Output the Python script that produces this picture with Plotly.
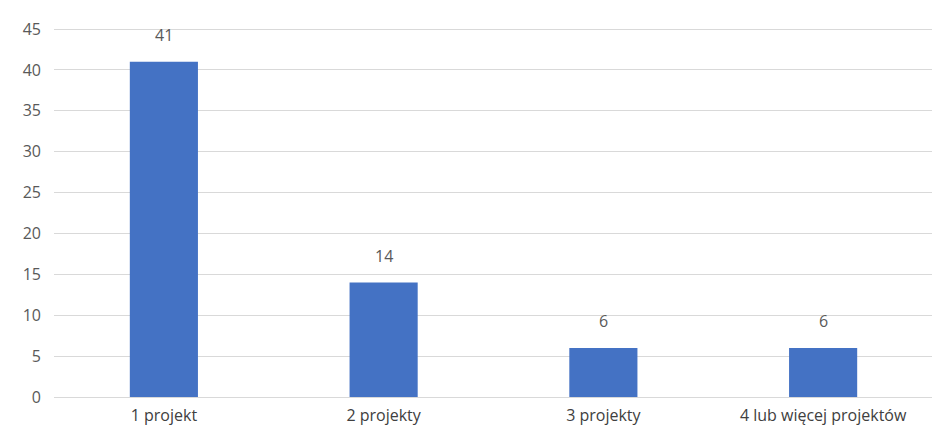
import plotly.graph_objects as go

categories = ["1 projekt", "2 projekty", "3 projekty", "4 lub więcej projektów"]
values = [41, 14, 6, 6]
y_ticks = [0, 5, 10, 15, 20, 25, 30, 35, 40, 45]

FONT = "Open Sans, Liberation Sans, sans-serif"

fig = go.Figure()
fig.add_trace(go.Bar(
    x=categories, y=values,
    marker=dict(color="#4472C4", line=dict(width=0)),
    width=0.31,
    hoverinfo="skip",
))

for c, v in zip(categories, values):
    fig.add_annotation(x=c, y=v, text=str(v), showarrow=False,
                       yshift=27, font=dict(family=FONT, size=16, color="#595959"))

fig.update_layout(
    width=940, height=428,
    margin=dict(l=46, r=15, t=10, b=29),
    paper_bgcolor="white", plot_bgcolor="white",
    showlegend=False,
    font=dict(family=FONT, size=16, color="#595959"),
)
fig.update_yaxes(range=[0, 45.5], tickvals=y_ticks, showgrid=True, gridcolor="#D9D9D9",
                 gridwidth=1, zeroline=True, zerolinecolor="#D9D9D9", zerolinewidth=1,
                 showline=False, ticks="", ticklabelstandoff=12,
                 tickfont=dict(size=16, color="#595959"))
fig.update_xaxes(showgrid=False, showline=False, ticks="", ticklabelstandoff=7,
                 tickfont=dict(size=16, color="#404040"))

fig.write_html("out.html")
